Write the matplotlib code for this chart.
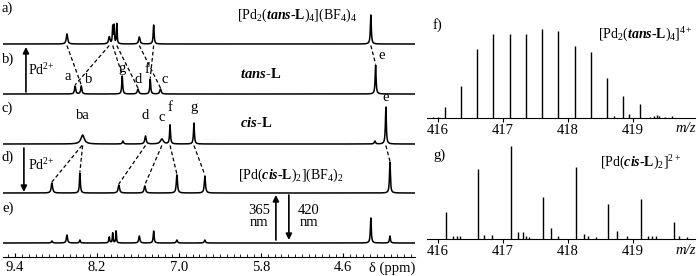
import numpy as np
import matplotlib.pyplot as plt
from matplotlib.ticker import MultipleLocator

plt.rcParams['font.family'] = ['Liberation Serif', 'DejaVu Serif']
plt.rcParams['mathtext.fontset'] = 'custom'
plt.rcParams['mathtext.rm'] = 'Liberation Serif'
plt.rcParams['mathtext.it'] = 'Liberation Serif:italic'
plt.rcParams['mathtext.bf'] = 'Liberation Serif:bold'
plt.rcParams['mathtext.bfit'] = 'Liberation Serif:italic:bold'

# --- 1H NMR peaks: position (ppm), height, line width (ppm) ---
# a) [Pd2(tans-L)4](BF4)4
a_ppm = [8.64, 8.02, 7.97, 7.95, 7.91, 7.58, 7.37, 4.19]
a_h = [10, 7, 17, 18, 20, 7, 19, 29]
a_w = [0.012, 0.012, 0.006, 0.006, 0.006, 0.012, 0.008, 0.008]

# b) tans-L
b_ppm = [8.52, 8.43, 7.83, 7.60, 7.42, 7.27, 4.12]
b_h = [8, 8, 18, 5, 15, 5, 29]
b_w = [0.01, 0.01, 0.008, 0.012, 0.008, 0.012, 0.008]
b_lab = ['a', 'b', 'g', 'd', 'f', 'c', 'e']

# c) cis-L
c_ppm = [8.41, 7.82, 7.49, 7.25, 7.13, 6.78, 4.13, 3.97]
c_h = [9, 3, 8, 5, 19, 21, 3, 37]
c_w = [0.03, 0.01, 0.012, 0.025, 0.008, 0.008, 0.01, 0.008]
c_lab = ['ba', '', 'd', 'c', 'f', 'g', '', 'e']

# d) [Pd(cis-L)2](BF4)2
d_ppm = [8.86, 8.45, 7.88, 7.50, 7.03, 6.62, 3.91]
d_h = [10, 20, 8, 7, 18, 17, 31]
d_w = [0.012, 0.008, 0.012, 0.012, 0.01, 0.01, 0.008]

# e) after irradiation
e_ppm = [8.86, 8.64, 8.45, 8.02, 7.97, 7.92, 7.58, 7.37, 7.03, 6.62, 4.19, 3.91]
e_h = [2, 8, 3, 6, 10, 12, 7, 12, 3, 3, 25, 7]
e_w = [0.01, 0.01, 0.008, 0.008, 0.006, 0.006, 0.01, 0.008, 0.01, 0.01, 0.008, 0.008]

# peak correlations (upper spectrum ppm -> lower spectrum ppm)
ab_from = [8.64, 8.02, 7.97, 7.91, 7.58, 7.37, 4.19]
ab_to = [8.43, 8.52, 7.83, 7.60, 7.27, 7.42, 4.12]
cd_from = [8.42, 8.41, 7.49, 7.25, 7.13, 6.78, 3.97]
cd_to = [8.86, 8.45, 7.88, 7.50, 7.03, 6.62, 3.91]

ppm_ticks = [9.4, 8.2, 7.0, 5.8, 4.6]

# --- ESI-MS isotope patterns (m/z, relative intensity %) ---
f_mz = [415.92, 416.0, 416.10, 416.35, 416.60, 416.85, 417.10, 417.35, 417.60, 417.85,
        418.10, 418.35, 418.60, 418.70, 418.85, 418.94, 419.10, 419.26, 419.32, 419.37,
        419.40, 419.49, 419.60]
f_int = [1, 1, 12, 36, 78, 94, 94, 94, 100, 98,
         81, 74, 45, 2, 25, 4, 16, 1, 2, 3,
         2, 1, 2]

g_mz = [416.12, 416.23, 416.29, 416.34, 416.62, 416.71, 416.83, 417.12, 417.23, 417.30,
        417.35, 417.40, 417.62, 417.74, 417.85, 418.12, 418.25, 418.31, 418.43, 418.62,
        418.75, 418.91, 419.12, 419.23, 419.29, 419.35, 419.62, 419.70, 419.83]
g_int = [29, 3, 3, 3, 75, 4, 4, 100, 7, 7,
         3, 2, 45, 12, 3, 77, 5, 3, 2, 38,
         9, 3, 43, 3, 3, 3, 18, 3, 2]
mz_ticks = [416, 417, 418, 419]

W, H = 700, 276
fig = plt.figure(figsize=(W / 100, H / 100), dpi=100)


def ftext(x, y, s, **kw):
    kw.setdefault('fontsize', 10.5)
    kw.setdefault('va', 'center')
    fig.text(x / W, 1 - y / H, s, **kw)


# ---------------- NMR stack ----------------
ax = fig.add_axes([3 / W, 1 - 257 / H, 412 / W, 257 / H])
ax.set_xlim(9.576, 3.543)
ax.set_ylim(0, 257)
x = np.linspace(9.6, 3.5, 8000)


def spectrum(ppm, h, w):
    y = np.zeros_like(x)
    for p, hh, ww in zip(ppm, h, w):
        y += hh / (1 + ((x - p) / ww) ** 2)
    return y


offsets = [213, 163, 113, 64, 14]
specs = [spectrum(a_ppm, a_h, a_w), spectrum(b_ppm, b_h, b_w),
         spectrum(c_ppm, c_h, c_w), spectrum(d_ppm, d_h, d_w),
         spectrum(e_ppm, e_h, e_w)]
for off, s in zip(offsets, specs):
    ax.plot(x, off + s, color='k', lw=1.1)


def links(src, dst, i_up, i_low):
    ys = specs[i_low][::-1]
    xs = x[::-1]
    for p0, p1 in zip(src, dst):
        top = offsets[i_low] + np.interp(p1, xs, ys) + 1
        ax.plot([p0, p1], [offsets[i_up] - 1.5, top], color='k', lw=0.9,
                ls=(0, (3, 2)))


links(ab_from, ab_to, 0, 1)
links(cd_from, cd_to, 2, 3)

# peak letters
b_dx = [-5, 5, 0, 0, -2, 3, 4]
b_dy = [2, 0, 1, 2, 2, 2, 2]
for p, h, lab, dx, dy in zip(b_ppm, b_h, b_lab, b_dx, b_dy):
    ax.annotate(lab, (p, offsets[1] + h), xytext=(dx, dy), textcoords='offset points',
                ha='center', va='bottom', fontsize=10.5)
c_y = [135, 0, 135, 133, 143, 143, 0, 153]
for p, lab, yy in zip(c_ppm, c_lab, c_y):
    if lab:
        ax.text(p, yy, lab, ha='center', va='bottom', fontsize=10.5)

ax.spines[['top', 'left', 'right']].set_visible(False)
ax.spines['bottom'].set_linewidth(0.8)
ax.set_yticks([])
ax.set_xticks(ppm_ticks)
ax.set_xticklabels([f'{t:.1f}' for t in ppm_ticks])
ax.xaxis.set_minor_locator(MultipleLocator(0.1))
ax.tick_params(axis='x', which='major', direction='in', length=3, width=0.8,
               labelsize=10.5, pad=3)
ax.tick_params(axis='x', which='minor', direction='in', length=2, width=0.6)

# arrows
arr = dict(arrowstyle='-|>', color='k', lw=1.2, mutation_scale=9, shrinkA=0, shrinkB=0)
ax.annotate('', xy=(9.24, 210), xytext=(9.24, 165), arrowprops=arr)
ax.annotate('', xy=(9.27, 65), xytext=(9.27, 109), arrowprops=arr)
ax.annotate('', xy=(5.58, 62), xytext=(5.58, 17), arrowprops=arr)
ax.annotate('', xy=(5.39, 17), xytext=(5.39, 62), arrowprops=arr)

for lab, yy in zip(['a)', 'b)', 'c)', 'd)', 'e)'], [8, 59, 108, 157, 208]):
    ftext(2, yy, lab)

ftext(237, 15, r'[Pd$_2$($\mathbfit{tans}$-$\mathbf{L}$)$_4$](BF$_4$)$_4$', fontsize=10)
ftext(240, 74, r'$\mathbfit{tans}$-L', fontweight='bold')
ftext(240, 123, r'$\mathbfit{cis}$-L', fontweight='bold')
ftext(238, 175, r'[Pd($\mathbfit{cis}$-$\mathbf{L}$)$_2$](BF$_4$)$_2$', fontsize=10)
ftext(28, 70, r'Pd$^{2\!+}$', fontsize=10)
ftext(28, 165, r'Pd$^{2\!+}$', fontsize=10)
ftext(259, 210, '365', ha='center')
ftext(259, 223, 'nm', ha='center')
ftext(309, 210, '420', ha='center')
ftext(309, 223, 'nm', ha='center')
ftext(392, 268, 'δ (ppm)', ha='center')


# ---------------- MS panels ----------------
def ms_axes(bottom_px, top_px, mz, inten, ymax):
    a = fig.add_axes([427 / W, 1 - bottom_px / H, 268 / W, (bottom_px - top_px) / H])
    a.vlines(mz, 0, inten, color='k', lw=1.0)
    a.set_xlim(415.83, 419.95)
    a.set_ylim(0, ymax)
    a.spines[['top', 'left', 'right']].set_visible(False)
    a.spines['bottom'].set_linewidth(0.8)
    a.set_yticks([])
    a.set_xticks(mz_ticks)
    a.tick_params(axis='x', direction='out', length=3, width=0.8, labelsize=10.5, pad=1.5)
    return a


axf = ms_axes(118, 0, f_mz, f_int, 132.6)
axg = ms_axes(239, 135, g_mz, g_int, 111.8)

ftext(433, 25, 'f)')
ftext(433, 155, 'g)')
ftext(598, 35, r'[Pd$_2$($\mathbfit{tans}$-$\mathbf{L}$)$_4$]$^{4+}$', fontsize=10)
ftext(600, 163, r'[Pd($\mathbfit{cis}$-$\mathbf{L}$)$_2$]$^{2+}$', fontsize=10)
ftext(686, 128, 'm/z', ha='center', style='italic')
ftext(686, 250, 'm/z', ha='center', style='italic')

fig.savefig('out.png', dpi=100)
